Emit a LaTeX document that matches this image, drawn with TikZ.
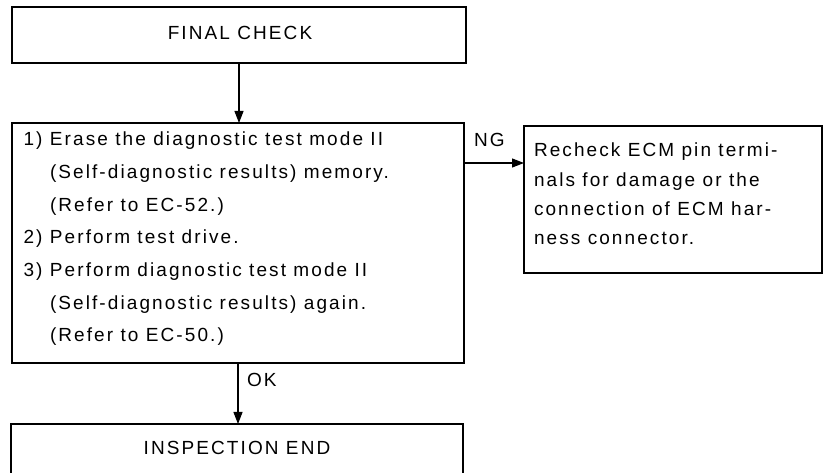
\documentclass[tikz,border=0pt]{standalone}
\usepackage{fontspec}
\setmainfont[LetterSpace=11]{Liberation Sans}
\usetikzlibrary{arrows.meta}
\begin{document}
\begin{tikzpicture}[x=1pt,y=-1pt,
  box/.style={draw, line width=1.1pt, inner sep=0pt, outer sep=0pt},
  txt/.style={inner sep=0pt, outer sep=0pt, font=\fontsize{19}{22}\selectfont},
  arr/.style={line width=1.1pt, -{Triangle[length=12pt,width=9pt]}},
  lbl/.style={inner sep=0pt, outer sep=0pt, font=\fontsize{19}{22}\selectfont}]
\useasboundingbox (0,0) rectangle (831,473);
\clip (0,0) rectangle (831,473);
\fill[white] (0,0) rectangle (831,473);
% boxes
\node[box, minimum width=454pt, minimum height=56pt] (final) at (239,35) {};
\node[box, minimum width=452pt, minimum height=240pt] (main) at (238,243) {};
\node[box, minimum width=298pt, minimum height=147pt] (rbox) at (673,199.5) {};
\node[box, minimum width=452pt, minimum height=60pt] (insp) at (237,454) {};
% texts
\node[txt] (finaltxt) at (240,33) {FINAL CHECK};
\node[txt] (insptxt) at (237,448) {INSPECTION END};
\node[txt, align=left, anchor=north west, font=\fontsize{19}{32.7}\selectfont] (maintxt) at (23.5,132)
  {\makebox[26.5pt][l]{1)}Erase the diagnostic test mode II\\
   \hspace*{26.5pt}(Self-diagnostic results) memory.\\
   \hspace*{26.5pt}(Refer to EC-52.)\\
   \makebox[26.5pt][l]{2)}Perform test drive.\\
   \makebox[26.5pt][l]{3)}Perform diagnostic test mode II\\
   \hspace*{26.5pt}(Self-diagnostic results) again.\\
   \hspace*{26.5pt}(Refer to EC-50.)};
\node[txt, align=left, anchor=north west, font=\fontsize{19}{29.3}\selectfont] (rtxt) at (534,143)
  {Recheck ECM pin termi-\\
   nals for damage or the\\
   connection of ECM har-\\
   ness connector.};
% connectors
\coordinate (ngy) at (0,163);
\draw[arr] (final.south) -- (final.south |- main.north);
\draw[arr] (main.east |- ngy) -- (rbox.west |- ngy);
\draw[arr] (main.south) -- (main.south |- insp.north);
\node[lbl, anchor=west] (ng) at (474,140) {NG};
\node[lbl, anchor=west] (ok) at (247,380) {OK};
\end{tikzpicture}
\end{document}
